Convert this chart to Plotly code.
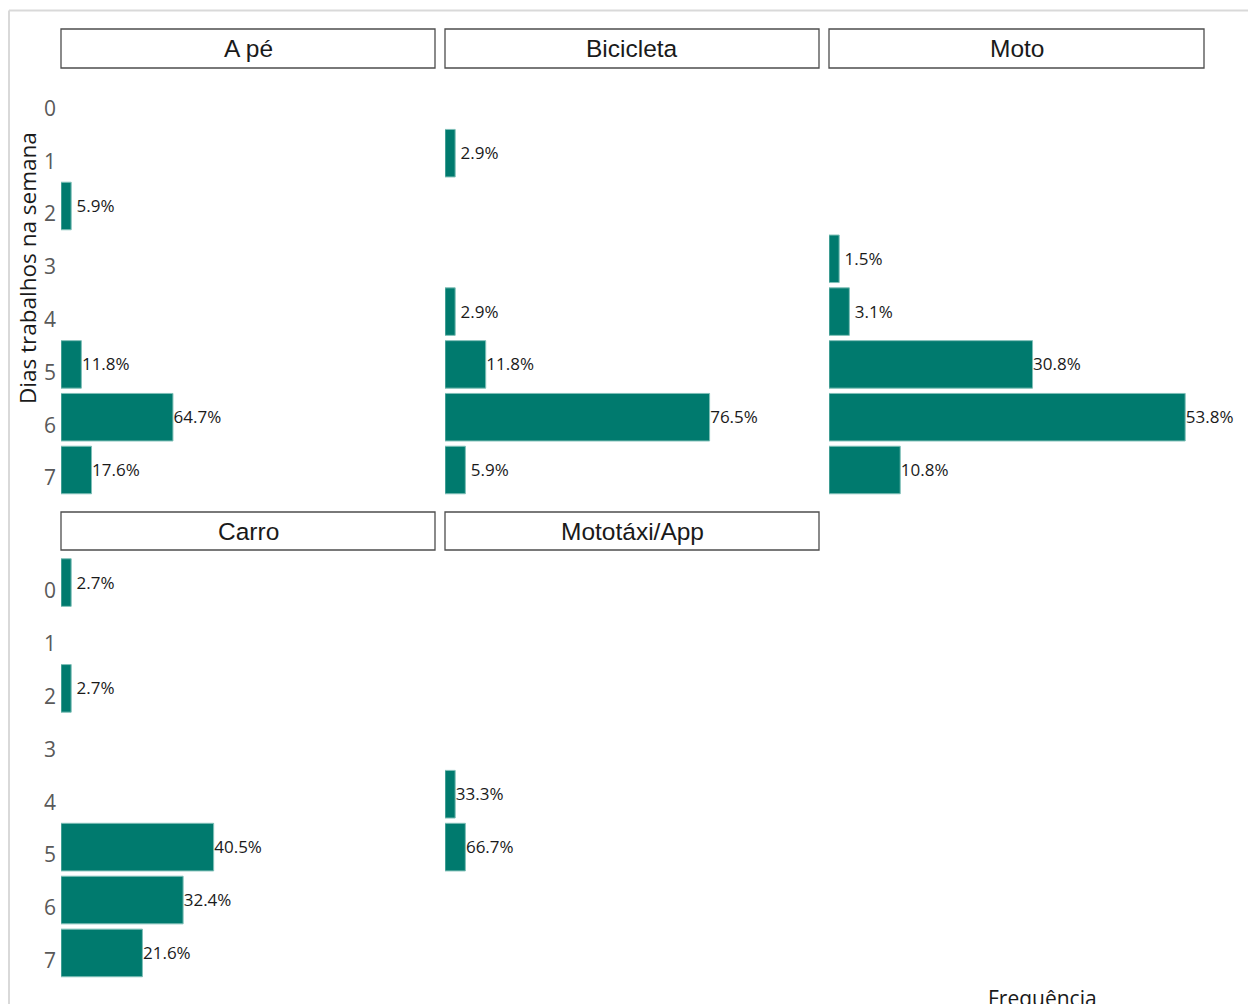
import plotly.graph_objects as go

W, H = 1256, 1004
OFF = 8  # page body margin in the browser

# ---------------- data ----------------
facets = ["A pé", "Bicicleta", "Moto", "Carro", "Mototáxi/App"]
days_a_pe = [2, 5, 6, 7]
freq_a_pe = [1, 2, 11, 3]
pct_a_pe = ["5.9%", "11.8%", "64.7%", "17.6%"]

days_bicicleta = [1, 4, 5, 6, 7]
freq_bicicleta = [1, 1, 4, 26, 2]
pct_bicicleta = ["2.9%", "2.9%", "11.8%", "76.5%", "5.9%"]

days_moto = [3, 4, 5, 6, 7]
freq_moto = [1, 2, 20, 35, 7]
pct_moto = ["1.5%", "3.1%", "30.8%", "53.8%", "10.8%"]

days_carro = [0, 2, 5, 6, 7]
freq_carro = [1, 1, 15, 12, 8]
pct_carro = ["2.7%", "2.7%", "40.5%", "32.4%", "21.6%"]

days_mototaxi = [4, 5]
freq_mototaxi = [1, 2]
pct_mototaxi = ["33.3%", "66.7%"]

y_ticks = [0, 1, 2, 3, 4, 5, 6, 7]
y_title = "Dias trabalhos na semana"
x_title = "Frequência"

series = [
    (days_a_pe, freq_a_pe, pct_a_pe),
    (days_bicicleta, freq_bicicleta, pct_bicicleta),
    (days_moto, freq_moto, pct_moto),
    (days_carro, freq_carro, pct_carro),
    (days_mototaxi, freq_mototaxi, pct_mototaxi),
]

# ---------------- layout helpers ----------------
def X(px):
    return (px - OFF) / W

def Y(py):
    return 1 - (py - OFF) / H

cols_px = [(61, 435), (445, 819), (829, 1204)]
rows_px = [(68.7, 501.7), (550.8, 984.7)]
strips_px = [(29, 68), (512, 550)]
positions = [(0, 0), (0, 1), (0, 2), (1, 0), (1, 1)]

BAR = "#007A6E"
LABEL_OFFSET = 2.4
LABEL_DY = 0.035
panel_max = 36.75          # value at panel right edge
x_max = 41.0               # extended so outside labels are not culled
scale = 374 / panel_max    # px per unit

fig = go.Figure()
shapes = []
annotations = []
layout_axes = {}

for i, ((r, c), name, (d, f, p)) in enumerate(zip(positions, facets, series)):
    k = i + 1
    xa = "x" if k == 1 else f"x{k}"
    ya = "y" if k == 1 else f"y{k}"
    fig.add_trace(go.Bar(
        x=f, y=d, orientation="h", width=0.9,
        marker=dict(color=BAR, line=dict(color="#7fbfb7", width=1)),
        xaxis=xa, yaxis=ya, showlegend=False, hoverinfo="skip",
    ))
    fig.add_trace(go.Scatter(
        x=[v + LABEL_OFFSET for v in f], y=[v + LABEL_DY for v in d],
        mode="text", text=p, textposition="middle center",
        textfont=dict(family="Open Sans", size=17, color="#1a1a1a"),
        xaxis=xa, yaxis=ya, showlegend=False, hoverinfo="skip", cliponaxis=False,
    ))
    x0, x1 = cols_px[c]
    y0, y1 = rows_px[r]
    layout_axes["xaxis" if k == 1 else f"xaxis{k}"] = dict(
        domain=[X(x0), min(1.0, X(x0 + x_max * scale))], range=[0, x_max], anchor=ya,
        showgrid=False, zeroline=False, showticklabels=False, showline=False,
        ticks="",
    )
    layout_axes["yaxis" if k == 1 else f"yaxis{k}"] = dict(
        domain=[Y(y1), Y(y0)], range=[7.6, -0.6], anchor=xa,
        tickmode="array", tickvals=y_ticks, ticktext=[str(t) for t in y_ticks],
        showgrid=False, zeroline=False, showline=False, ticks="",
        showticklabels=(c == 0),
        tickfont=dict(family="Open Sans", size=21, color="#595959"),
        ticklabelstandoff=4, ticklabelshift=-8,
    )
    s0, s1 = strips_px[r]
    shapes.append(dict(
        type="rect", xref="paper", yref="paper",
        x0=X(x0), x1=X(x1), y0=Y(s1), y1=Y(s0),
        line=dict(color="#4d4d4d", width=1.3), fillcolor="white",
    ))
    annotations.append(dict(
        text=name, xref="paper", yref="paper",
        x=X((x0 + x1) / 2), y=Y((s0 + s1) / 2),
        xanchor="center", yanchor="middle", showarrow=False,
        font=dict(family="Liberation Sans", size=24.5, color="#1a1a1a"),
    ))

# outer light frame (cropped page border)
shapes.append(dict(type="line", xref="paper", yref="paper",
                   x0=X(9), x1=1, y0=Y(10.5), y1=Y(10.5),
                   line=dict(color="#d9d9d9", width=2)))
shapes.append(dict(type="line", xref="paper", yref="paper",
                   x0=X(9), x1=X(9), y0=0, y1=Y(10.5),
                   line=dict(color="#d9d9d9", width=2)))

annotations.append(dict(
    text=y_title, xref="paper", yref="paper", x=X(27), y=Y(268),
    xanchor="center", yanchor="middle", textangle=-90, showarrow=False,
    font=dict(family="Open Sans", size=22.5, color="#1a1a1a"),
))
annotations.append(dict(
    text=x_title, xref="paper", yref="paper", x=X(1042), y=Y(982),
    xanchor="center", yanchor="top", showarrow=False,
    font=dict(family="Open Sans", size=21, color="#1a1a1a"),
))

fig.update_layout(
    width=W, height=H,
    margin=dict(l=0, r=0, t=0, b=0),
    paper_bgcolor="white", plot_bgcolor="white",
    bargap=0.1,
    shapes=shapes, annotations=annotations,
    **layout_axes,
)

fig.write_html("out.html")
